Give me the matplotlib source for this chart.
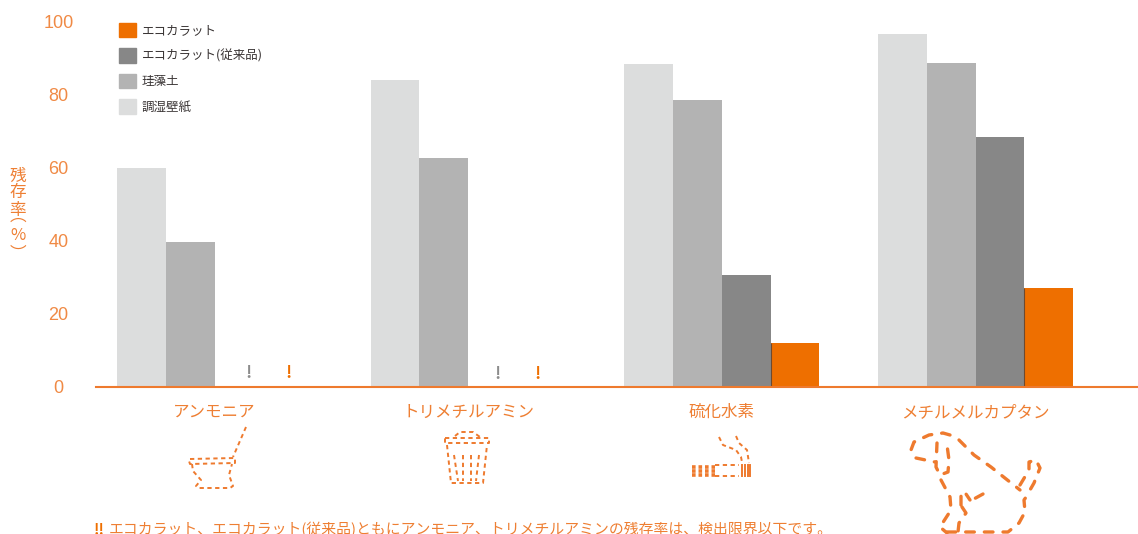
import matplotlib
matplotlib.use('Agg')
import matplotlib.pyplot as plt
import numpy as np
from matplotlib.patches import Patch
from matplotlib.transforms import ScaledTranslation

plt.rcParams['font.family'] = ['Noto Sans CJK JP', 'DejaVu Sans']

# data
gases = ['アンモニア', 'トリメチルアミン', '硫化水素', 'メチルメルカプタン']
wallpaper = [60.0, 84.2, 88.5, 96.7]
diatom = [39.8, 62.8, 78.6, 88.8]
ecocarat_old = [0, 0, 30.7, 68.5]
ecocarat = [0, 0, 12.0, 27.1]
yticks = [0, 20, 40, 60, 80, 100]

names = ['エコカラット', 'エコカラット(従来品)', '珪藻土', '調湿壁紙']
ORANGE = '#ee6f00'
DARK = '#878787'
MID = '#b3b3b3'
LIGHT = '#dcdddd'
TXT = '#ee7f33'
LINE = '#ee7a2e'

W, H = 1138, 534
fig = plt.figure(figsize=(W / 100, H / 100), dpi=100, facecolor='white')
ax = fig.add_axes([96 / W, (H - 387) / H, 1042 / W, 365 / H])

step = 253.7 / 48.75
x = np.arange(4) * step
ax.bar(x, wallpaper, 1, align='edge', color=LIGHT)
ax.bar(x + 1, diatom, 1, align='edge', color=MID)
ax.bar(x + 2, ecocarat_old, 1, align='edge', color=DARK)
bars = ax.bar(x + 3, ecocarat, 1, align='edge', color=ORANGE)
# thin dark seam between grey and orange bars
for b in bars[2:]:
    ax.vlines(b.get_x(), 0, b.get_height(), color='#6e4a30', lw=0.8)

ax.set_xlim(-21 / 48.75, 1021 / 48.75)
ax.set_ylim(0, 100)
for s in ['top', 'right', 'left']:
    ax.spines[s].set_visible(False)
ax.spines['bottom'].set_color(LINE)
ax.spines['bottom'].set_linewidth(1.5)

ax.set_xticks(x + 2)
ax.set_xticklabels(gases, fontsize=11.9, color=TXT)
ax.tick_params(axis='x', length=0, pad=12)
ax.set_yticks(yticks)
ax.set_yticklabels([str(v) for v in yticks], fontsize=13, color='#f08a45', ha='center',
                   family='Liberation Sans', va='center')
ax.tick_params(axis='y', length=0, pad=28)
shift = ScaledTranslation(1 / 72, -1 / 72, fig.dpi_scale_trans)
for t in ax.get_yticklabels():
    t.set_transform(t.get_transform() + shift)

handles = [Patch(color=c) for c in [ORANGE, DARK, MID, LIGHT]]
fig.legend(handles, names, loc='upper left', bbox_to_anchor=(119 / W, 1 - 23 / H),
           frameon=False, fontsize=9, borderpad=0, borderaxespad=0,
           handlelength=1.36, handleheight=1.36, handletextpad=0.48,
           labelspacing=0.9, labelcolor='#3a3535')

# overlay in pixel space for notes and pictograms
ov = fig.add_axes([0, 0, 1, 1], facecolor='none')
ov.set_xlim(0, W)
ov.set_ylim(H, 0)
ov.axis('off')

for ch, yv in zip(['残', '存', '率', '︵', '%', '︶'], [176, 193, 210, 216, 235, 254]):
    ov.text(18, yv, ch, color=TXT, fontsize=12, ha='center', va='center')

for xv, yv, c in [(249, 373, '#8c8c8c'), (289, 373, ORANGE), (498, 374, '#8c8c8c'), (538, 374, ORANGE)]:
    ov.text(xv, yv, '!', color=c, fontsize=12, fontweight='bold', ha='center', va='center')

ov.text(94, 530, '!!', color=ORANGE, fontsize=10.7, fontweight='bold', ha='left', va='center')
ov.text(109, 530, 'エコカラット、エコカラット(従来品)ともにアンモニア、トリメチルアミンの残存率は、検出限界以下です。',
        color=TXT, fontsize=10.7, ha='left', va='center')

# pictograms
toilet = [
    [(190, 459), (235, 458), (235, 463), (190, 464), (189, 461), (190, 459)],
    [(192, 464), (193, 471), (201, 480), (196, 486), (199, 488), (230, 488), (233, 486), (229, 475), (232, 464)],
    [(246, 427), (233, 457)],
]
trash = [
    [(445, 438), (489, 438), (489, 443), (445, 443), (445, 438)],
    [(455, 436), (460, 432), (473, 432), (480, 437)],
    [(447, 445), (451, 483), (483, 483), (487, 445)],
    [(454, 455), (458, 481)],
    [(463, 455), (463, 481)],
    [(471, 455), (471, 481)],
    [(479, 455), (476, 481)],
]
cigarette = [
    [(719, 437), (723, 445), (736, 450), (741, 457), (742, 462)],
    [(736, 436), (739, 443), (747, 450), (749, 463)],
    [(715, 465), (739, 465)],
    [(715, 476), (739, 476)],
]
dog = [
    [(959, 440), (974, 455), (991, 467), (1020, 490)],
    [(950, 435), (943, 433), (929, 435), (914, 442), (911, 450), (916, 458), (935, 462)],
    [(937, 443), (936, 467), (940, 475), (948, 472), (949, 460), (947, 445)],
    [(941, 480), (950, 497), (951, 510), (940, 527), (947, 533)],
    [(947, 532), (1008, 532), (1019, 523), (1025, 512), (1024, 500), (1029, 493)],
    [(1020, 485), (1029, 470), (1029, 462), (1036, 460), (1040, 468), (1034, 483), (1026, 497)],
    [(983, 494), (972, 500)],
    [(961, 505), (961, 492), (966, 494), (970, 500)],
    [(962, 507), (966, 513), (959, 523), (958, 532)],
]

for path in toilet + trash + cigarette:
    px, py = zip(*path)
    ov.plot(px, py, color=LINE, lw=1.4, ls=(0, (2.2, 1.8)), dash_capstyle='butt')
for path in dog:
    px, py = zip(*path)
    ov.plot(px, py, color=LINE, lw=2.4, ls=(0, (2.6, 3.0)), dash_capstyle='round')

# cigarette filter ends and tip
for xv in [742.5, 745, 747.6, 750]:
    ov.plot([xv, xv], [465, 476], color=LINE, lw=1.4)
for yv in [466.5, 470.5, 474.5]:
    ov.plot([692, 715], [yv, yv], color=LINE, lw=2.6, ls=(0, (1, 0.8)))

ov.set_xlim(0, W)
ov.set_ylim(H, 0)
fig.savefig('out.png', dpi=100)
